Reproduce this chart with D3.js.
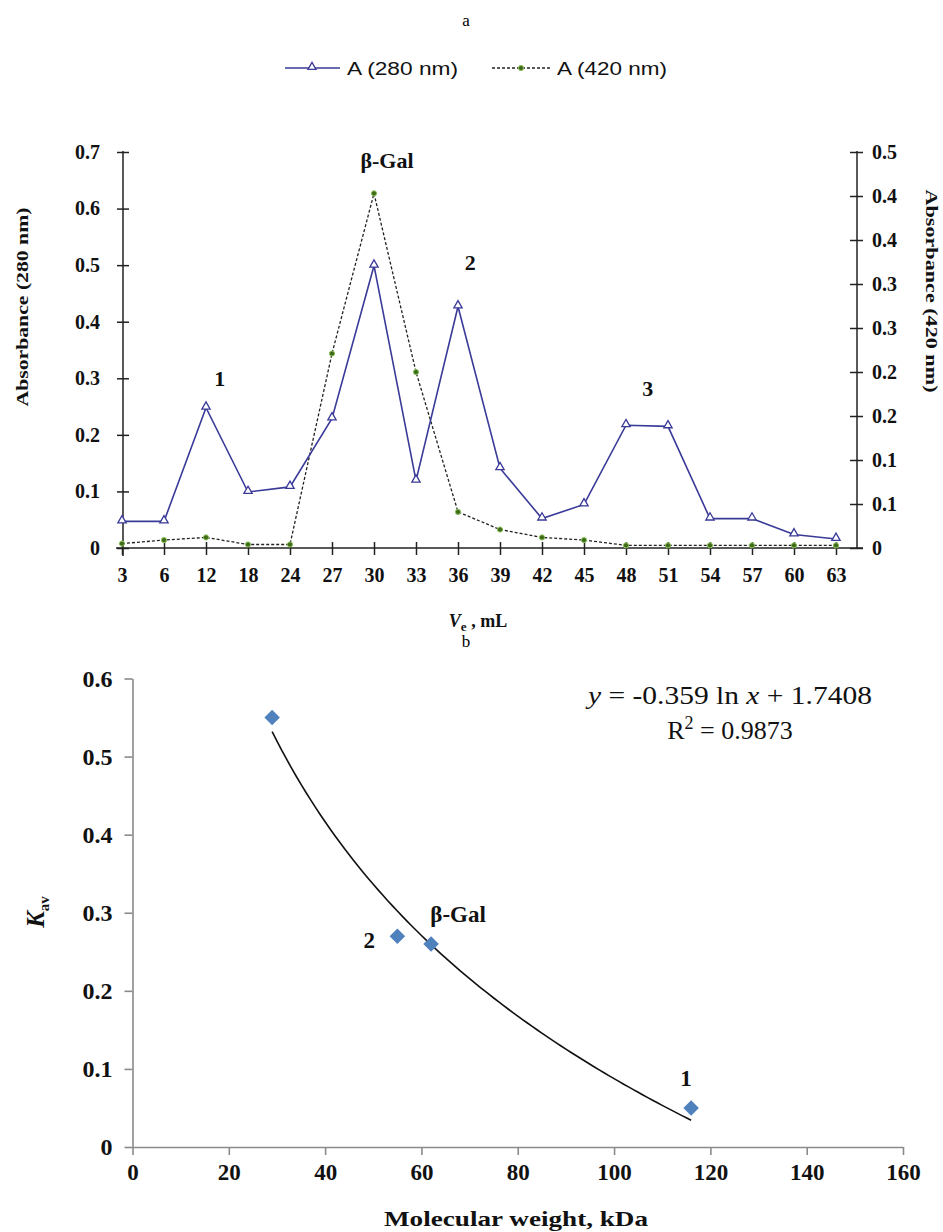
<!DOCTYPE html>
<html>
<head>
<meta charset="utf-8">
<script src="https://cdn.jsdelivr.net/npm/d3@7"></script>
<style>
  body { margin: 0; background: #fff; }
  svg { display: block; }
  .serif { font-family: "Liberation Serif", "Times New Roman", serif; }
</style>
</head>
<body>
<div class="chart"></div>
<script>
// ---- panel a : elution profile ----
var volumes = ["3","6","12","18","24","27","30","33","36","39","42","45","48","51","54","57","60","63"];
var a280 = [0.047,0.047,0.248,0.099,0.108,0.229,0.499,0.119,0.427,0.141,0.052,0.077,0.217,0.215,0.052,0.052,0.024,0.016];
var a420 = [0.005,0.009,0.012,0.004,0.004,0.221,0.403,0.200,0.041,0.021,0.012,0.009,0.003,0.003,0.003,0.003,0.003,0.003];
var leftTicks = [0,0.1,0.2,0.3,0.4,0.5,0.6,0.7];
var leftTickLabels = ["0","0.1","0.2","0.3","0.4","0.5","0.6","0.7"];
var rightTicks = [0,0.05,0.1,0.15,0.2,0.25,0.3,0.35,0.4,0.45];
var rightTickLabels = ["0","0.1","0.1","0.2","0.2","0.3","0.3","0.4","0.4","0.5"];
// peak labels: category, offset in steps, value on left axis
var peakLabels = [
  {text: "1", at: "12", dx: 0.33, v: 0.30},
  {text: "β-Gal", at: "30", dx: 0.31, v: 0.686},
  {text: "2", at: "36", dx: 0.29, v: 0.505},
  {text: "3", at: "48", dx: 0.52, v: 0.282}
];

// ---- panel b : calibration ----
var mw = [29, 55, 62, 116];
var kav = [0.55, 0.27, 0.26, 0.05];
var mwLabels = ["", "2", "β-Gal", "1"];
var mwTicks = [0,20,40,60,80,100,120,140,160];
var kavTicks = [0,0.1,0.2,0.3,0.4,0.5,0.6];
var trendA = -0.359, trendB = 1.7408;

var W = 943, H = 1232;
var svg = d3.select(".chart").append("svg")
    .attr("width", W).attr("height", H)
    .attr("class", "serif");

var blue = "#3a3a98";

// ===================== panel a =====================
svg.append("text").attr("x", 466).attr("y", 26)
    .attr("text-anchor", "middle").attr("font-size", 17).text("a");

var x = d3.scalePoint().domain(volumes).range([122, 836]);
var yL = d3.scaleLinear().domain([0, 0.7]).range([548, 152]);
var yR = d3.scaleLinear().domain([0, 0.45]).range([548, 152]);

// legend
var lg = svg.append("g").attr("font-family", "'Liberation Sans', Arial, sans-serif").attr("font-size", 18);
lg.append("line").attr("x1", 285).attr("x2", 340).attr("y1", 68).attr("y2", 68)
    .attr("stroke", blue).attr("stroke-width", 1.5);
lg.append("path").attr("d", d3.symbol(d3.symbolTriangle, 28)())
    .attr("transform", "translate(312,67)")
    .attr("fill", "#fff").attr("stroke", blue).attr("stroke-width", 1.3);
lg.append("text").attr("x", 347).attr("y", 75).attr("textLength", 111)
    .attr("lengthAdjust", "spacingAndGlyphs").attr("fill", "#111").text("A (280 nm)");
lg.append("line").attr("x1", 492).attr("x2", 550).attr("y1", 68).attr("y2", 68)
    .attr("stroke", "#222").attr("stroke-width", 1.3).attr("stroke-dasharray", "3,2");
lg.append("circle").attr("cx", 521).attr("cy", 68).attr("r", 2.6)
    .attr("fill", "#3f6a1a").attr("stroke", "#8cc45e").attr("stroke-width", 1);
lg.append("text").attr("x", 557).attr("y", 75).attr("textLength", 110)
    .attr("lengthAdjust", "spacingAndGlyphs").attr("fill", "#111").text("A (420 nm)");

var ga = svg.append("g");

// left axis
var leftAxis = ga.append("g").attr("transform", "translate(123,0)")
    .call(d3.axisLeft(yL).tickValues(leftTicks)
        .tickFormat(function(d, i) { return leftTickLabels[i]; })
        .tickSizeInner(6).tickSizeOuter(0).tickPadding(17));
leftAxis.select(".domain").remove();
leftAxis.selectAll(".tick line").attr("x1", 6).attr("stroke", "#222").attr("stroke-width", 1.5);
leftAxis.selectAll("text").attr("font-size", 20).attr("font-weight", "bold").attr("fill", "#111")
    .attr("font-family", "'Liberation Serif', serif");
ga.append("line").attr("x1", 123).attr("x2", 123).attr("y1", 151).attr("y2", 556)
    .attr("stroke", "#222").attr("stroke-width", 1.5);

// right axis
var rightAxis = ga.append("g").attr("transform", "translate(857,0)")
    .call(d3.axisRight(yR).tickValues(rightTicks)
        .tickFormat(function(d, i) { return rightTickLabels[i]; })
        .tickSizeInner(6).tickSizeOuter(0).tickPadding(9));
rightAxis.select(".domain").remove();
rightAxis.selectAll(".tick line").attr("x1", -7).attr("stroke", "#222").attr("stroke-width", 1.5);
rightAxis.selectAll("text").attr("font-size", 20).attr("font-weight", "bold").attr("fill", "#111")
    .attr("font-family", "'Liberation Serif', serif");
ga.append("line").attr("x1", 857).attr("x2", 857).attr("y1", 151).attr("y2", 549)
    .attr("stroke", "#222").attr("stroke-width", 1.5);

// x axis
var xAxis = ga.append("g").attr("transform", "translate(0,548)")
    .call(d3.axisBottom(x).tickSizeInner(7).tickSizeOuter(0).tickPadding(13));
xAxis.select(".domain").remove();
xAxis.selectAll(".tick line").attr("y1", -6).attr("stroke", "#222").attr("stroke-width", 1.5);
xAxis.selectAll("text").attr("font-size", 20).attr("font-weight", "bold").attr("fill", "#111")
    .attr("font-family", "'Liberation Serif', serif");
ga.append("line").attr("x1", 116).attr("x2", 863).attr("y1", 548).attr("y2", 548)
    .attr("stroke", "#222").attr("stroke-width", 1.5);

// axis titles
ga.append("text")
    .attr("transform", "translate(28,307) rotate(-90)")
    .attr("text-anchor", "middle").attr("font-size", 17).attr("font-weight", "bold")
    .attr("textLength", 199).attr("lengthAdjust", "spacingAndGlyphs")
    .attr("fill", "#111").text("Absorbance  (280 nm)");
ga.append("text")
    .attr("transform", "translate(926,291) rotate(90)")
    .attr("text-anchor", "middle").attr("font-size", 17).attr("font-weight", "bold")
    .attr("textLength", 203).attr("lengthAdjust", "spacingAndGlyphs")
    .attr("fill", "#111").text("Absorbance  (420 nm)");
var vt = ga.append("text").attr("x", 478).attr("y", 627)
    .attr("text-anchor", "middle").attr("font-size", 18).attr("font-weight", "bold").attr("fill", "#111");
vt.append("tspan").attr("font-style", "italic").text("V");
vt.append("tspan").attr("font-size", 13).attr("dy", 4).text("e");
vt.append("tspan").attr("dy", -4).text(" , mL");

// A420 dashed line with dots
var line420 = d3.line().x(function(d, i) { return x(volumes[i]); }).y(function(d) { return yR(d); });
ga.append("path").datum(a420).attr("d", line420)
    .attr("fill", "none").attr("stroke", "#222").attr("stroke-width", 1.3).attr("stroke-dasharray", "3,2");
ga.selectAll(".dot420").data(a420).enter().append("circle")
    .attr("cx", function(d, i) { return x(volumes[i]); })
    .attr("cy", function(d) { return yR(d); })
    .attr("r", 2.6)
    .attr("fill", "#3f6a1a").attr("stroke", "#8cc45e").attr("stroke-width", 1);

// A280 line with triangles
var line280 = d3.line().x(function(d, i) { return x(volumes[i]); }).y(function(d) { return yL(d); });
ga.append("path").datum(a280).attr("d", line280)
    .attr("fill", "none").attr("stroke", blue).attr("stroke-width", 1.6);
ga.selectAll(".tri").data(a280).enter().append("path")
    .attr("d", d3.symbol(d3.symbolTriangle, 30)())
    .attr("transform", function(d, i) { return "translate(" + x(volumes[i]) + "," + (yL(d) - 1) + ")"; })
    .attr("fill", "#fff").attr("stroke", blue).attr("stroke-width", 1.3);

// peak labels
ga.selectAll(".peak").data(peakLabels).enter().append("text")
    .attr("x", function(d) { return x(d.at) + d.dx * x.step(); })
    .attr("y", function(d) { return yL(d.v); })
    .attr("dy", "0.35em")
    .attr("text-anchor", "middle").attr("font-size", 22).attr("font-weight", "bold").attr("fill", "#111")
    .text(function(d) { return d.text; });

// ===================== panel b =====================
svg.append("text").attr("x", 466).attr("y", 647)
    .attr("text-anchor", "middle").attr("font-size", 17).text("b");

var gb = svg.append("g");
var xb = d3.scaleLinear().domain([0, 160]).range([132.5, 903]);
var yb = d3.scaleLinear().domain([0, 0.6]).range([1147, 678.5]);
var grey = "#8a8a8a";

var bx = gb.append("g").attr("transform", "translate(0,1147)")
    .call(d3.axisBottom(xb).tickValues(mwTicks).tickFormat(d3.format("d"))
        .tickSizeInner(8).tickSizeOuter(0).tickPadding(9));
bx.select(".domain").attr("stroke", grey).attr("stroke-width", 1.6);
bx.selectAll(".tick line").attr("stroke", grey).attr("stroke-width", 1.6);
bx.selectAll("text").attr("font-size", 23).attr("font-weight", "bold").attr("fill", "#111")
    .attr("font-family", "'Liberation Serif', serif");

var by = gb.append("g").attr("transform", "translate(132.5,0)")
    .call(d3.axisLeft(yb).tickValues(kavTicks).tickFormat(function(d) { return d === 0 ? "0" : d3.format(".1f")(d); })
        .tickSizeInner(8).tickSizeOuter(0).tickPadding(12));
by.select(".domain").attr("stroke", grey).attr("stroke-width", 1.6);
by.selectAll(".tick line").attr("stroke", grey).attr("stroke-width", 1.6);
by.selectAll("text").attr("font-size", 24).attr("font-weight", "bold").attr("fill", "#111")
    .attr("font-family", "'Liberation Serif', serif");

// axis titles
gb.append("text").attr("x", 516).attr("y", 1226)
    .attr("text-anchor", "middle").attr("font-size", 22).attr("font-weight", "bold")
    .attr("textLength", 264).attr("lengthAdjust", "spacingAndGlyphs")
    .attr("fill", "#111").text("Molecular  weight, kDa");
var kt = gb.append("text").attr("transform", "translate(44,912) rotate(-90)")
    .attr("text-anchor", "middle").attr("font-weight", "bold").attr("fill", "#111");
kt.append("tspan").attr("font-size", 25).attr("font-style", "italic").text("K");
kt.append("tspan").attr("font-size", 15).attr("dy", 5).text("av");

// trend line y = a ln x + b
var trendX = d3.range(mw[0], d3.max(mw) + 0.5, 1);
var trend = d3.line().x(function(d) { return xb(d); }).y(function(d) { return yb(trendA * Math.log(d) + trendB); });
gb.append("path").datum(trendX).attr("d", trend)
    .attr("fill", "none").attr("stroke", "#111").attr("stroke-width", 1.6);

// points
gb.selectAll(".pt").data(mw).enter().append("path")
    .attr("d", d3.symbol(d3.symbolSquare, 120)())
    .attr("transform", function(d, i) { return "translate(" + xb(d) + "," + yb(kav[i]) + ") rotate(45)"; })
    .attr("fill", "#4f81bd");

// point labels
var lblOff = {"2": [-28, 4], "β-Gal": [27, -30], "1": [-5, -30]};
gb.selectAll(".pl").data(mw).enter().append("text")
    .attr("x", function(d, i) { return xb(d) + (lblOff[mwLabels[i]] || [0, 0])[0]; })
    .attr("y", function(d, i) { return yb(kav[i]) + (lblOff[mwLabels[i]] || [0, 0])[1]; })
    .attr("dy", "0.35em")
    .attr("text-anchor", "middle").attr("font-size", 23).attr("font-weight", "bold").attr("fill", "#111")
    .text(function(d, i) { return mwLabels[i]; });

// equation
var eq = gb.append("text").attr("x", 730).attr("y", 704).attr("text-anchor", "middle")
    .attr("font-size", 26).attr("fill", "#111")
    .attr("textLength", 284).attr("lengthAdjust", "spacingAndGlyphs");
eq.append("tspan").attr("font-style", "italic").text("y");
eq.append("tspan").text(" = " + trendA + " ln ");
eq.append("tspan").attr("font-style", "italic").text("x");
eq.append("tspan").text(" + " + trendB);
var r2 = gb.append("text").attr("x", 730).attr("y", 739).attr("text-anchor", "middle")
    .attr("font-size", 26).attr("fill", "#111");
r2.append("tspan").text("R");
r2.append("tspan").attr("font-size", 18).attr("dy", -10).text("2");
r2.append("tspan").attr("dy", 10).text(" = 0.9873");
</script>
</body>
</html>
